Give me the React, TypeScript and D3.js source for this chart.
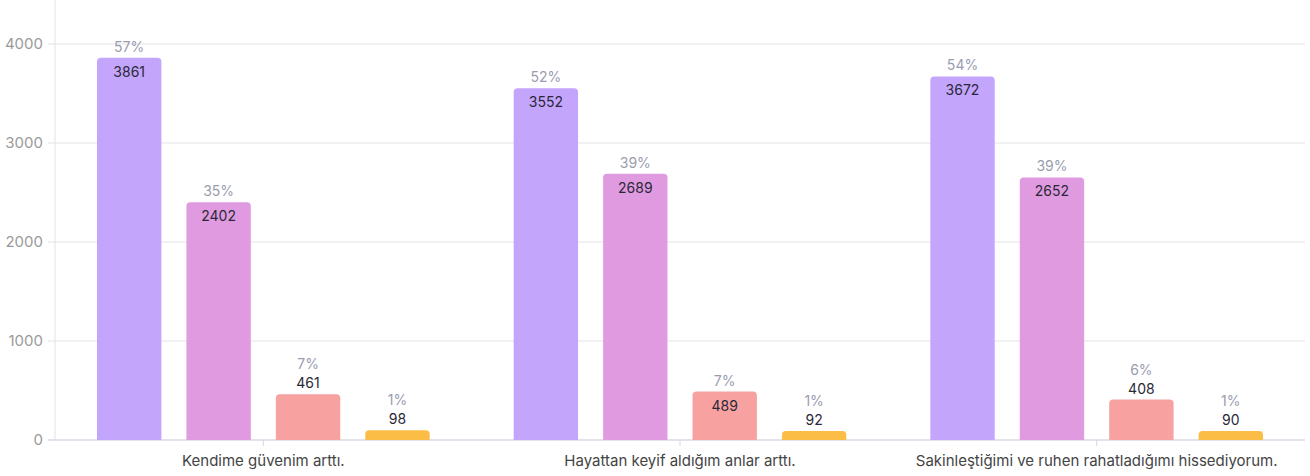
import React from "react";
import * as d3 from "d3";

const categories = [
  "Kendime güvenim arttı.",
  "Hayattan keyif aldığım anlar arttı.",
  "Sakinleştiğimi ve ruhen rahatladığımı hissediyorum.",
];
const seriesKeys = ["s1", "s2", "s3", "s4"];
const seriesColors = ["#c4a5fc", "#e09be0", "#f8a1a1", "#fbbd45"];
const values1 = [3861, 3552, 3672];
const values2 = [2402, 2689, 2652];
const values3 = [461, 489, 408];
const values4 = [98, 92, 90];
const pct1 = [57, 52, 54];
const pct2 = [35, 39, 39];
const pct3 = [7, 7, 6];
const pct4 = [1, 1, 1];
const yTicks = [0, 1000, 2000, 3000, 4000];

const seriesValues = [values1, values2, values3, values4];
const seriesPcts = [pct1, pct2, pct3, pct4];

const W = 1310;
const H = 476;
const left = 55;
const right = 1305;
const baseY = 440;
const topY = 44;
const FONT = "Inter, 'Open Sans', sans-serif";

export default function App() {
  const x0 = d3.scaleBand<string>().domain(categories).range([left, right]).paddingInner(0).paddingOuter(0);
  const groupPad = 42;
  const x1 = d3
    .scaleBand<string>()
    .domain(seriesKeys)
    .range([groupPad, x0.bandwidth() - groupPad])
    .paddingInner(0.28)
    .paddingOuter(0);
  const y = d3.scaleLinear().domain([0, 4000]).range([baseY, topY]);

  const roundedTop = (x: number, yTop: number, w: number, h: number, r: number) => {
    const rr = Math.min(r, h, w / 2);
    const p = d3.path();
    p.moveTo(x, yTop + h);
    p.lineTo(x, yTop + rr);
    p.quadraticCurveTo(x, yTop, x + rr, yTop);
    p.lineTo(x + w - rr, yTop);
    p.quadraticCurveTo(x + w, yTop, x + w, yTop + rr);
    p.lineTo(x + w, yTop + h);
    p.closePath();
    return p.toString();
  };

  return (
    <svg
      width={W}
      height={H}
      style={{ position: "absolute", left: 0, top: 0, background: "#fff" }}
      fontFamily={FONT}
    >
      {yTicks.map((t) => (
        <g key={t}>
          {t !== 0 && (
            <line x1={left - 7} x2={right} y1={y(t)} y2={y(t)} stroke="#e3e3e8" strokeWidth={1} />
          )}
          <text x={43} y={y(t)} dy="0.35em" textAnchor="end" fontSize={15} fill="#9a9a9a">
            {t}
          </text>
        </g>
      ))}
      <line x1={left} x2={left} y1={0} y2={baseY} stroke="#e3e3e8" strokeWidth={1} />
      <line x1={left - 7} x2={right} y1={baseY} y2={baseY} stroke="#d8dae3" strokeWidth={1.5} />
      {categories.map((c) => {
        const cx = (x0(c) as number) + x0.bandwidth() / 2;
        return (
          <g key={c}>
            <line x1={cx} x2={cx} y1={baseY} y2={baseY + 6} stroke="#d8dae3" strokeWidth={1} />
            <text x={cx} y={466} textAnchor="middle" fontSize={15} fill="#444">
              {c}
            </text>
          </g>
        );
      })}
      {categories.map((c, ci) => (
        <g key={c} transform={`translate(${x0(c)},0)`}>
          {seriesKeys.map((k, si) => {
            const v = seriesValues[si][ci];
            const pct = seriesPcts[si][ci];
            const bx = x1(k) as number;
            const bw = x1.bandwidth();
            const yt = y(v);
            const h = baseY - yt;
            const inside = h >= 47;
            const cx = bx + bw / 2;
            return (
              <g key={k}>
                <path d={roundedTop(bx, yt, bw, h, 4)} fill={seriesColors[si]} />
                {inside ? (
                  <>
                    <text x={cx} y={yt - 6} textAnchor="middle" fontSize={14} fill="#9a9cb0">
                      {pct}%
                    </text>
                    <text x={cx} y={yt + 19} textAnchor="middle" fontSize={14} fill="#2a2838">
                      {v}
                    </text>
                  </>
                ) : (
                  <>
                    <text x={cx} y={yt - 25} textAnchor="middle" fontSize={14} fill="#9a9cb0">
                      {pct}%
                    </text>
                    <text x={cx} y={yt - 6} textAnchor="middle" fontSize={14} fill="#2a2838">
                      {v}
                    </text>
                  </>
                )}
              </g>
            );
          })}
        </g>
      ))}
    </svg>
  );
}
